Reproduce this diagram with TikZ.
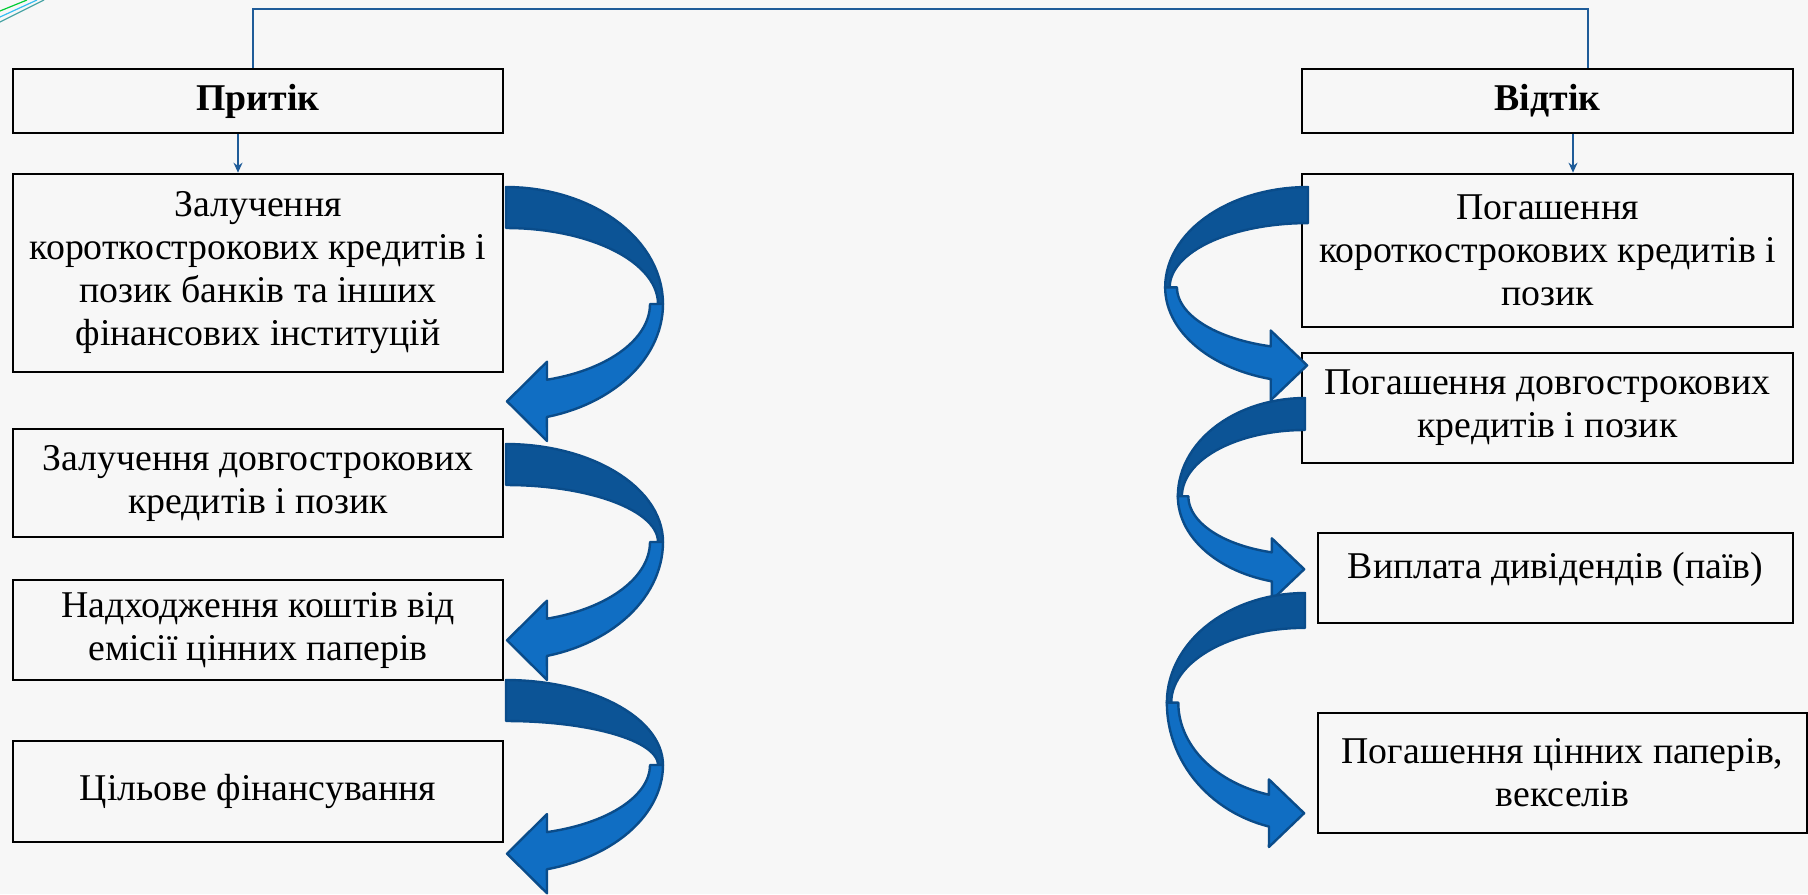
\documentclass[tikz,border=0pt]{standalone}
\usepackage{fontspec}
\setmainfont{Liberation Serif}
\usetikzlibrary{arrows.meta}
\definecolor{linkblue}{RGB}{31,92,153}
\definecolor{ribbondark}{RGB}{12,84,150}
\definecolor{ribbonlight}{RGB}{16,110,195}
\definecolor{ribbonedge}{RGB}{10,76,138}
\definecolor{slidebg}{RGB}{247,247,247}
\newcommand\boxfont{\fontsize{18.9pt}{21.5pt}\selectfont}
\tikzset{>={Stealth[length=5pt,width=4.5pt]},
  flowbox/.style={draw, line width=1.3pt, align=center, inner sep=0pt, font=\boxfont},
  titlebox/.style={flowbox, font=\boxfont\bfseries},
  link/.style={linkblue, line width=0.8pt},
  pics/turnarrow/.style 2 args={code={
    \filldraw[fill=ribbondark, draw=ribbonedge, line width=1.2pt, line join=round]
      plot[domain=90:0, samples=30] ({157*cos(\x)}, {#1-#1*sin(\x)})
      -- plot[domain=0:90, samples=30] ({152*cos(\x)}, {#1-(#1-41)*sin(\x)}) -- cycle;
    \filldraw[fill=ribbonlight, draw=ribbonedge, line width=1.2pt, line join=round]
      plot[domain=0:-74.9, samples=30] ({157*cos(\x)}, {#1-#2*sin(\x)})
      -- (41,{#1+#2*0.9653+24})
      -- (1,{#1+0.5*(#2*0.9653+(#2-38)*0.9587)+3})
      -- (41,{#1+(#2-38)*0.9587-18})
      -- plot[domain=-73.46:0, samples=30] ({144*cos(\x)}, {#1-(#2-38)*sin(\x)}) -- cycle;
  }}}

\begin{document}
\begin{tikzpicture}[x=0.5pt, y=-0.5pt]
\fill[slidebg] (0,0) rectangle (1808,894);
\useasboundingbox (0,0) rectangle (1808,894);
\draw[teal!70, line width=0.6pt] (0,22) -- (44,0);
\draw[cyan!80, line width=0.6pt] (0,17) -- (37,0);
\draw[green!60!teal, line width=0.6pt] (0,11) -- (27,0);

\node[titlebox, minimum width=245pt, minimum height=32pt] (pritik) at (258,101) {Притік};
\node[titlebox, minimum width=245.5pt, minimum height=32pt] (vidtik) at (1547.5,101) {Відтік};

\node[flowbox, minimum width=245pt, minimum height=99pt] (zal1) at (258,273)
  {Залучення\\короткострокових кредитів і\\позик банків та інших\\фінансових інституцій};
\node[flowbox, minimum width=245pt, minimum height=54pt] (zal2) at (258,483)
  {Залучення довгострокових\\кредитів і позик};
\node[flowbox, minimum width=245pt, minimum height=50pt] (nadh) at (258,630)
  {Надходження коштів від\\емісії цінних паперів};
\node[flowbox, minimum width=245pt, minimum height=50.5pt] (tsil) at (258,791.5)
  {Цільове фінансування};

\node[flowbox, minimum width=245.5pt, minimum height=76.5pt] (pog1) at (1547.5,250.5)
  {Погашення\\короткострокових кредитів і\\позик};
\node[flowbox, minimum width=245.5pt, minimum height=55pt] (pog2) at (1547.5,408)
  {Погашення довгострокових\\кредитів і позик};
\node[flowbox, minimum width=237.5pt, minimum height=45pt, text depth=13pt] (vypl) at (1555.5,578)
  {Виплата дивідендів (паїв)};
\node[flowbox, minimum width=244.5pt, minimum height=60pt] (pog3) at (1562.5,773)
  {Погашення цінних паперів,\\векселів};

\coordinate (top1) at (253,9);
\coordinate (top2) at (1588,9);
\draw[link] (top1 |- pritik.north) -- (top1) -- (top2) -- (top2 |- vidtik.north);
\draw[link,->] ([xshift=-10pt]pritik.south) -- ([xshift=-10pt]zal1.north);
\draw[link,->] ([xshift=12.75pt]vidtik.south) -- ([xshift=12.75pt]pog1.north);

\pic at (506,187) {turnarrow={117}{117}};
\pic at (506,444) {turnarrow={98}{118}};
\pic at (506,680) {turnarrow={85}{108}};

\pic[xscale=-0.91, yscale=0.88] at (1308,187) {turnarrow={114}{108}};
\pic[xscale=-0.81, yscale=0.78] at (1305,398) {turnarrow={126}{113}};
\pic[xscale=-0.88, yscale=0.85] at (1305,593) {turnarrow={129}{151}};
\end{tikzpicture}
\end{document}
